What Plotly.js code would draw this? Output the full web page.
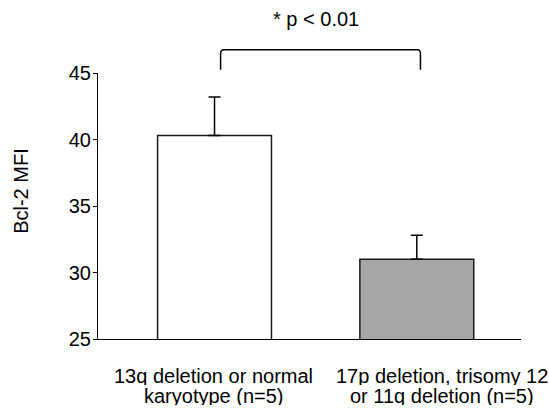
<!DOCTYPE html>
<html>
<head>
<meta charset="utf-8">
<script src="https://cdn.plot.ly/plotly-3.0.1.min.js"></script>
<style>
  html, body { margin: 0; padding: 0; background: #ffffff; }
  #chart { width: 549px; height: 412px; }
</style>
</head>
<body>
<div id="chart"></div>
<script>
// Bcl-2 mean fluorescence intensity by cytogenetic group
const groupLines = [
  ['13q deletion or normal', 'karyotype (n=5)'],
  ['17p deletion, trisomy 12', 'or 11q deletion (n=5)']
];
const groups = groupLines.map(l => l.join(' '));
const meanMFI = [40.3, 31.0];
const errMFI = [2.9, 1.8];
const barFill = ['#ffffff', '#a6a6a6'];
const yTickVals = [25, 30, 35, 40, 45];
const yLabel = 'Bcl-2 MFI';
const pLabel = '* p < 0.01';

const FONT = 'Liberation Sans, Arial, Helvetica, sans-serif';

// plot-area geometry in pixels
const W = 549, H = 412;
const L = 97.5, R = 28.3, T = 73.3, B = 73;
const plotW = W - L - R, plotH = H - T - B;
const pxToPaperX = px => (px - L) / plotW;
const pxToPaperY = py => (H - B - py) / plotH;

const idx = groups.map((_, i) => i);

const bars = {
  type: 'bar',
  x: idx,
  y: meanMFI,
  width: 0.563,
  marker: { color: barFill, line: { color: '#1a1a1a', width: 1.5 } },
  error_y: {
    type: 'data', symmetric: false,
    array: errMFI, arrayminus: errMFI.map(() => 0),
    color: '#000000', thickness: 1.5, width: 6
  },
  hoverinfo: 'skip'
};

// group labels: centre of each label (category units), pixel y of each line
const labelX = [-0.005, 1.1265];
const labelY = [376, 396];

const annotations = [];
groupLines.forEach((lines, g) => {
  lines.forEach((txt, k) => {
    annotations.push({
      xref: 'x', yref: 'paper',
      x: labelX[g], y: pxToPaperY(labelY[k]),
      xanchor: 'center', yanchor: 'middle',
      height: 18,
      text: txt, showarrow: false,
      font: { family: FONT, size: 20, color: '#000' }
    });
  });
});
annotations.push({
  xref: 'paper', yref: 'paper',
  x: pxToPaperX(19.7), y: pxToPaperY(190.8),
  xanchor: 'center', yanchor: 'middle', textangle: -90,
  text: yLabel, showarrow: false,
  font: { family: FONT, size: 20, color: '#000' }
});
annotations.push({
  xref: 'x', yref: 'paper',
  x: 0.5, y: pxToPaperY(19.7),
  xanchor: 'center', yanchor: 'middle',
  text: pLabel, showarrow: false,
  font: { family: FONT, size: 20, color: '#000' }
});

// significance bracket spanning the two bars
const bx0 = 0.03, bx1 = 1.018;
const byTop = pxToPaperY(50), byBot = pxToPaperY(70);
const rx = 0.015, ry = pxToPaperY(46) - pxToPaperY(50);
const bracketPath =
  `M ${bx0},${byBot} L ${bx0},${byTop - ry} Q ${bx0},${byTop} ${bx0 + rx},${byTop} ` +
  `L ${bx1 - rx},${byTop} Q ${bx1},${byTop} ${bx1},${byTop - ry} L ${bx1},${byBot}`;

const layout = {
  width: W, height: H,
  margin: { l: L, r: R, t: T, b: B, pad: 0 },
  paper_bgcolor: '#ffffff', plot_bgcolor: '#ffffff',
  showlegend: false,
  font: { family: FONT, size: 20, color: '#000' },
  xaxis: {
    range: [-0.576, 1.515],
    showgrid: false, zeroline: false,
    showline: true, linecolor: '#000', linewidth: 1,
    ticks: '', showticklabels: false, fixedrange: true
  },
  yaxis: {
    range: [25, 45],
    tickvals: yTickVals,
    showgrid: false, zeroline: false,
    showline: true, linecolor: '#000', linewidth: 1,
    ticks: 'outside', ticklen: 4, tickcolor: '#000', tickwidth: 1,
    ticklabelstandoff: -2,
    tickfont: { family: FONT, size: 20, color: '#000' },
    fixedrange: true
  },
  shapes: [{
    type: 'path', xref: 'x', yref: 'paper',
    path: bracketPath,
    line: { color: '#000', width: 1.5 }
  }],
  annotations: annotations
};

Plotly.newPlot('chart', [bars], layout, { displayModeBar: false, staticPlot: true });
</script>
</body>
</html>
